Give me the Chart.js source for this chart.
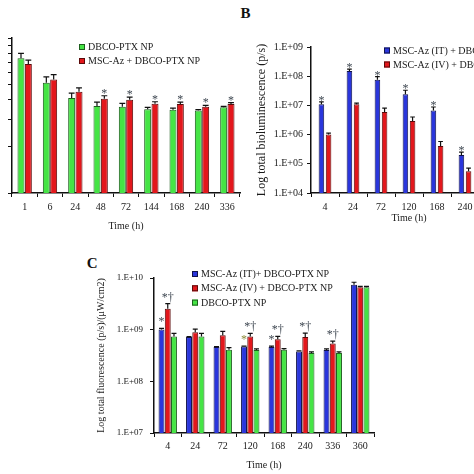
<!DOCTYPE html>
<html><head><meta charset="utf-8">
<script src="https://cdn.jsdelivr.net/npm/chart.js@4.4.1/dist/chart.umd.min.js"></script>
<style>
html,body{margin:0;padding:0;background:#fff;}
body{width:474px;height:474px;overflow:hidden;position:relative;}
canvas{position:absolute;}
.plabel{position:absolute;font:bold 15px 'Liberation Serif','Times New Roman',serif;line-height:15px;color:#111;}
</style></head><body>
<div class="plabel" style="left:240.5px;top:5.6px">B</div>
<div class="plabel" style="left:86.7px;top:256.3px">C</div>
<canvas id="ca" width="250" height="232" style="left:0;top:0"></canvas>
<canvas id="cb" width="265" height="224" style="left:250px;top:0"></canvas>
<canvas id="cc" width="300" height="231" style="left:90px;top:240px"></canvas>
<script>
// ---------- Panel A ----------
const aCategories = ['1','6','24','48','72','144','168','240','336'];
const aLegend = ['DBCO-PTX NP','MSC-Az + DBCO-PTX NP'];
const aGreen    = [74, 51.5, 41, 36.4, 36, 34.7, 34.5, 34, 35.7];
const aGreenErr = [5.5, 4.6, 3.1, 2.2, 1.9, 1.0, 0.8, 0.5, 0.5];
const aRed      = [68, 54, 45, 40.6, 40, 37.7, 37.5, 36, 37.5];
const aRedErr   = [4.0, 4.0, 2.7, 1.8, 1.5, 1.1, 1.1, 0.8, 0.8];
const aRedStars = [null, null, null, '*', '*', '*', '*', '*', '*'];
const aTickValues = [10,20,30,40,50,60,70,80,90,100];

// ---------- Panel B ----------
const bCategories = ['4','24','72','120','168','240','336'];
const bLegend = ['MSC-Az (IT) + DBCO-PTX NP','MSC-Az (IV) + DBCO-PTX NP'];
const bBlue     = [1.1e7, 1.5e8, 7.6e7, 2.4e7, 6.7e6, 2.0e5, null];
const bBlueErr  = [2.2e6, 2.5e7, 2.0e7, 9e6, 2.1e6, 5.3e4, null];
const bRed      = [1.0e6, 1.1e7, 5.9e6, 2.9e6, 4.1e5, 5.6e4, null];
const bRedErr   = [1.25e5, 9e5, 2.2e6, 1.1e6, 1.7e5, 1.5e4, null];
const bBlueStars = ['*','*','*','*','*','*',null];
const bTickValues = [1e4,1e5,1e6,1e7,1e8,1e9];
const bTickLabels = ['1.E+04','1.E+05','1.E+06','1.E+07','1.E+08','1.E+09'];

// ---------- Panel C ----------
const cCategories = ['4','24','72','120','168','240','336','360'];
const cLegend = ['MSC-Az (IT)+ DBCO-PTX NP','MSC-Az (IV) + DBCO-PTX NP','DBCO-PTX NP'];
const cBlue     = [1.01e9, 7.2e8, 4.6e8, 4.7e8, 4.6e8, 3.8e8, 4.05e8, 7.4e9];
const cBlueErr  = [4.6e7, 1.6e7, 1.0e7, 1.0e7, 2.1e7, 8.7e6, 1.9e7, 8.7e8];
const cRed      = [2.55e9, 8.9e8, 7.8e8, 7.4e8, 6.5e8, 7.2e8, 5.4e8, 6.6e9];
const cRedErr   = [6.3e8, 1.3e8, 1.5e8, 1.06e8, 9.3e7, 1.4e8, 6.1e7, 3e8];
const cGreen    = [7.4e8, 7.4e8, 4.1e8, 4.05e8, 4.1e8, 3.55e8, 3.55e8, 6.6e9];
const cGreenErr = [1.06e8, 1.06e8, 3.8e7, 1.9e7, 1.9e7, 1.6e7, 1.6e7, 3e8];
const cBlueStars = ['*', null, null, '*', '*', null, null, null];
const cBlueStarColors = ['#3d4650', null, null, '#8b8b3a', '#3d4650', null, null, null];
const cRedStars  = ['*\u2020', null, null, '*\u2020', '*\u2020', '*\u2020', '*\u2020', null];
const cTickValues = [1e7,1e8,1e9,1e10];
const cTickLabels = ['1.E+07','1.E+08','1.E+09','1.E+10'];

const SERIF = "'Liberation Serif','Times New Roman',serif";
const GREEN = '#45e445', GREEN_B = '#1d5e1d';
const RED = '#e3171c', RED_B = '#5a0a0a';
const BLUE = '#2a36dc', BLUE_B = '#10124a';
const INK = '#1a1a1a';

const extras = {
  id: 'extras',
  afterDatasetsDraw(chart, args, o) {
    const ctx = chart.ctx, ys = chart.scales.y;
    chart.data.datasets.forEach((ds, di) => {
      const meta = chart.getDatasetMeta(di);
      meta.data.forEach((bar, i) => {
        const v = ds.data[i];
        if (v == null) return;
        const e = ds.errors ? (ds.errors[i] || 0) : 0;
        const yTop = ys.getPixelForValue(v + e);
        ctx.save();
        ctx.strokeStyle = '#111';
        ctx.lineWidth = o.errWidth || 1.2;
        ctx.beginPath();
        ctx.moveTo(bar.x, bar.y); ctx.lineTo(bar.x, yTop);
        const hw = bar.width * 0.42;
        ctx.moveTo(bar.x - hw, yTop); ctx.lineTo(bar.x + hw, yTop);
        ctx.stroke();
        const st = ds.stars && ds.stars[i];
        if (st) {
          ctx.fillStyle = (ds.starColors && ds.starColors[i]) || '#3d4650';
          ctx.font = (o.starSize || 12) + 'px ' + SERIF;
          ctx.textAlign = 'center';
          ctx.textBaseline = 'alphabetic';
          ctx.fillText(st, bar.x, yTop + o.starDy);
        }
        ctx.restore();
      });
    });
    const L = o.legend;
    if (L) {
      ctx.save();
      ctx.font = L.size + 'px ' + SERIF;
      ctx.textBaseline = 'middle';
      ctx.textAlign = 'left';
      chart.data.datasets.forEach((ds, di) => {
        const y = L.y + di * L.dy;
        ctx.fillStyle = ds.backgroundColor;
        ctx.fillRect(L.x, y - 3, 6, 6);
        ctx.strokeStyle = ds.borderColor; ctx.lineWidth = 1;
        ctx.strokeRect(L.x + 0.5, y - 2.5, 5, 5);
        ctx.fillStyle = INK;
        ctx.fillText(ds.label, L.x + 9, y + 0.5);
      });
      ctx.restore();
    }
  }
};

function xScale(o) {
  return {
    grid: {display: true, drawOnChartArea: false, drawTicks: true, tickLength: 4, color: '#111', lineWidth: 1, offset: true},
    border: {display: true, color: '#111', width: 1.5},
    ticks: {font: {family: SERIF, size: 10}, color: INK, padding: o.pad, maxRotation: 0, autoSkip: false},
    title: {display: true, text: 'Time (h)', font: {family: SERIF, size: 10}, color: INK, padding: 0},
    afterFit(s) { s.height = o.h; }
  };
}
function yScale(o) {
  return {
    type: 'logarithmic', min: o.min, max: o.max,
    afterBuildTicks(s) { s.ticks = o.values.map(v => ({value: v})); },
    grid: {display: true, drawOnChartArea: false, drawTicks: true, tickLength: 4, color: '#111', lineWidth: 1},
    border: {display: true, color: '#111', width: 1.5},
    ticks: {
      display: !!o.labels, font: {family: SERIF, size: o.fs || 10}, color: INK, padding: o.pad || 4,
      callback(v) { const k = o.values.indexOf(v); return o.labels && k >= 0 ? o.labels[k] : ''; }
    },
    title: o.title ? {display: true, text: o.title, font: {family: SERIF, size: o.tfs}, color: INK, padding: {top: o.tpad, bottom: 0}} : {display: false},
    afterFit(s) { s.width = o.w; }
  };
}
function bar(label, data, errors, bg, bd, stars, starColors) {
  return {label, data, errors, stars, starColors, backgroundColor: bg, borderColor: bd, borderWidth: 1};
}
const base = {responsive: false, animation: false, devicePixelRatio: 1,
  plugins: {legend: {display: false}, tooltip: {enabled: false}}};

new Chart(document.getElementById('ca'), {
  type: 'bar',
  data: {labels: aCategories, datasets: [
    bar(aLegend[0], aGreen, aGreenErr, GREEN, GREEN_B),
    bar(aLegend[1], aRed, aRedErr, RED, RED_B, aRedStars)
  ]},
  options: Object.assign({}, base, {
    datasets: {bar: {categoryPercentage: 0.58, barPercentage: 0.95}},
    layout: {padding: {top: 38, left: 0, right: 10, bottom: 0}},
    scales: {
      x: xScale({h: 39, pad: 4}),
      y: yScale({min: 10, max: 100, values: aTickValues, w: 12})
    },
    plugins: Object.assign({}, base.plugins, {extras: {starDy: 1, legend: {x: 79, y: 47, dy: 14, size: 10}}})
  }),
  plugins: [extras]
});

new Chart(document.getElementById('cb'), {
  type: 'bar',
  data: {labels: bCategories, datasets: [
    bar(bLegend[0], bBlue, bBlueErr, BLUE, BLUE_B, bBlueStars),
    bar(bLegend[1], bRed, bRedErr, RED, RED_B)
  ]},
  options: Object.assign({}, base, {
    datasets: {bar: {categoryPercentage: 0.51, barPercentage: 0.78}},
    layout: {padding: {top: 47, left: 0, right: 8, bottom: 0}},
    scales: {
      x: xScale({h: 31, pad: 4}),
      y: yScale({min: 1e4, max: 1e9, values: bTickValues, labels: bTickLabels, w: 61, fs: 10, pad: 4,
        title: 'Log total bioluminescence (p/s)', tfs: 12, tpad: 4.8})
    },
    plugins: Object.assign({}, base.plugins, {extras: {starDy: 2, legend: {x: 134, y: 50.5, dy: 14, size: 10}}})
  }),
  plugins: [extras]
});

new Chart(document.getElementById('cc'), {
  type: 'bar',
  data: {labels: cCategories, datasets: [
    bar(cLegend[0], cBlue, cBlueErr, BLUE, BLUE_B, cBlueStars, cBlueStarColors),
    bar(cLegend[1], cRed, cRedErr, RED, RED_B, cRedStars),
    bar(cLegend[2], cGreen, cGreenErr, GREEN, GREEN_B)
  ]},
  options: Object.assign({}, base, {
    datasets: {bar: {categoryPercentage: 0.68, barPercentage: 0.95}},
    layout: {padding: {top: 38, left: 0, right: 16, bottom: 0}},
    scales: {
      x: xScale({h: 38, pad: 3}),
      y: yScale({min: 1e7, max: 1e10, values: cTickValues, labels: cTickLabels, w: 64, fs: 9, pad: 7,
        title: 'Log total fluorescence (p/s)/(\u03bcW/cm2)', tfs: 10, tpad: 5})
    },
    plugins: Object.assign({}, base.plugins, {extras: {starDy: -3, legend: {x: 102, y: 34, dy: 14.3, size: 10}}})
  }),
  plugins: [extras]
});
</script>
</body></html>
